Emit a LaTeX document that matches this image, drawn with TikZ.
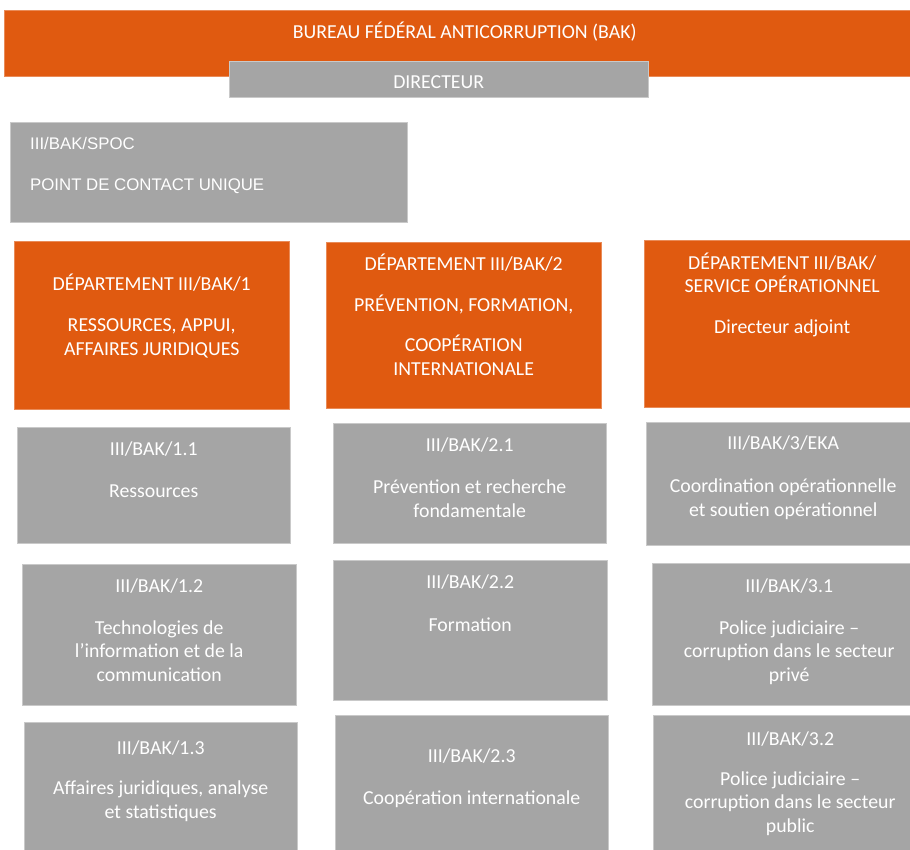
\documentclass[tikz,border=0pt]{standalone}
\usepackage{fontspec}
\setmainfont{Carlito}
\newfontfamily\spocfont{Liberation Sans}
\usepackage{tikz}
\usetikzlibrary{calc,positioning}

\definecolor{bakorange}{HTML}{E05A10}
\definecolor{bakgray}{HTML}{A5A5A5}

\tikzset{
	orangebox/.style={fill=bakorange, draw=bakorange!70!white, line width=0.4pt, inner sep=0pt, anchor=north west},
	graybox/.style={fill=bakgray, draw=bakgray!60!white, line width=0.4pt, inner sep=0pt, anchor=north west},
	txt/.style={text=white, align=center, inner sep=0pt, anchor=base, font=\fontsize{19.8}{23.5}\selectfont},
}

\begin{document}
\begin{tikzpicture}[x=1pt,y=-1pt]
		\useasboundingbox (0,0) rectangle (910,850);
		\clip (0,0) rectangle (910,850);
		% top
		\node[orangebox, minimum width=921pt, minimum height=66pt] (bak) at (4,10) {};
		\node[graybox, minimum width=419pt, minimum height=36pt] (dir) at (229,61) {};
		\node[txt] (tbak) at ([yshift=-29pt]bak.north) {BUREAU FÉDÉRAL ANTICORRUPTION (BAK)};
		\node[txt] (tdir) at ([yshift=-28pt]dir.north) {DIRECTEUR};
		% single point of contact (base = last line)
		\node[graybox, minimum width=397pt, minimum height=100pt] (spoc) at (10,122) {};
		\node[txt, anchor=base west, align=left, font=\spocfont\fontsize{16.8}{20}\selectfont] (tspoc) at ([xshift=20pt,yshift=-69pt]spoc.north west) {III/BAK/SPOC\\[21pt]POINT DE CONTACT UNIQUE};
		% departments
		\node[orangebox, minimum width=275pt, minimum height=168pt] (dep1) at (14,241) {};
		\node[orangebox, minimum width=275pt, minimum height=166pt] (dep2) at (326,242) {};
		\node[orangebox, minimum width=276pt, minimum height=167pt] (dep3) at (644,240) {};
		\node[txt] (tdep1) at ([yshift=-114pt]dep1.north) {DÉPARTEMENT III/BAK/1\\[17.5pt]RESSOURCES, APPUI,\\AFFAIRES JURIDIQUES};
		\node[txt] (tdep2) at ([yshift=-133pt]dep2.north) {DÉPARTEMENT III/BAK/2\\[17.5pt]PRÉVENTION, FORMATION,\\[16.5pt]COOPÉRATION\\INTERNATIONALE};
		\node[txt] (tdep3) at ([yshift=-94pt]dep3.north) {DÉPARTEMENT III/BAK/\\SERVICE OPÉRATIONNEL\\[17.5pt]Directeur adjoint};
		% units, first row
		\node[graybox, minimum width=273pt, minimum height=116pt] (u11) at (17,427) {};
		\node[graybox, minimum width=273pt, minimum height=120pt] (u21) at (333,423) {};
		\node[graybox, minimum width=274pt, minimum height=123pt] (u3e) at (646,422) {};
		\node[txt] (t11) at ([yshift=-70pt]u11.north) {III/BAK/1.1\\[18.5pt]Ressources};
		\node[txt] (t21) at ([yshift=-94pt]u21.north) {III/BAK/2.1\\[18.5pt]Prévention et recherche\\fondamentale};
		\node[txt] (t3e) at ([yshift=-94pt]u3e.north) {III/BAK/3/EKA\\[19.5pt]Coordination opérationnelle\\et soutien opérationnel};
		% units, second row
		\node[graybox, minimum width=274pt, minimum height=141pt] (u12) at (22,564) {};
		\node[graybox, minimum width=274pt, minimum height=140pt] (u22) at (333,560) {};
		\node[graybox, minimum width=274pt, minimum height=142pt] (u31) at (652,563) {};
		\node[txt] (t12) at ([yshift=-117pt]u12.north) {III/BAK/1.2\\[18.5pt]Technologies de\\l’information et de la\\communication};
		\node[txt] (t22) at ([yshift=-71pt]u22.north) {III/BAK/2.2\\[19.5pt]Formation};
		\node[txt] (t31) at ([yshift=-118pt]u31.north) {III/BAK/3.1\\[18.5pt]Police judiciaire --\\corruption dans le secteur\\privé};
		% units, third row
		\node[graybox, minimum width=273pt, minimum height=140pt] (u13) at (24,722) {};
		\node[graybox, minimum width=273pt, minimum height=145pt] (u23) at (335,715) {};
		\node[graybox, minimum width=274pt, minimum height=145pt] (u32) at (653,715) {};
		\node[txt] (t13) at ([yshift=-96pt]u13.north) {III/BAK/1.3\\[16.5pt]Affaires juridiques, analyse\\et statistiques};
		\node[txt] (t23) at ([yshift=-89pt]u23.north) {III/BAK/2.3\\[18.5pt]Coopération internationale};
		\node[txt] (t32) at ([yshift=-117pt]u32.north) {III/BAK/3.2\\[16.5pt]Police judiciaire --\\corruption dans le secteur\\public};
	\end{tikzpicture}
\end{document}
